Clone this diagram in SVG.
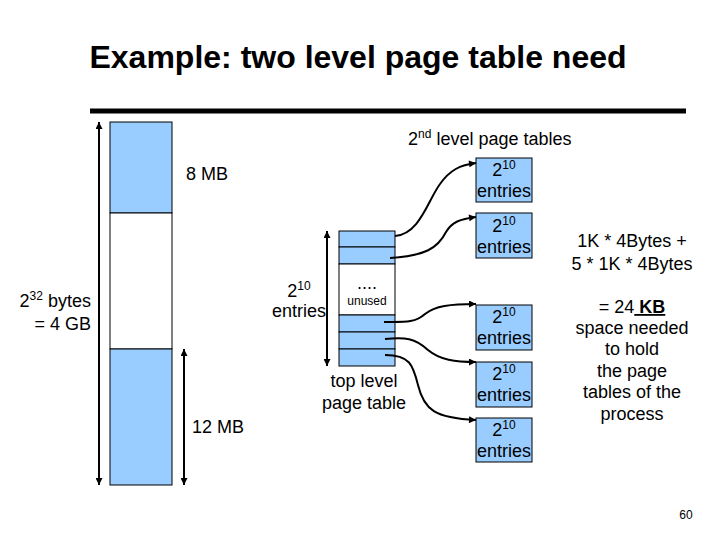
<svg xmlns="http://www.w3.org/2000/svg" width="720" height="540" viewBox="0 0 720 540">
<style>
text{font-family:"Liberation Sans",Arial,sans-serif;font-size:18px;fill:#000}
.sup{font-size:12px}
.blue{fill:#99CCFF;stroke:#000;stroke-width:1}
.white{fill:#fff;stroke:#000;stroke-width:1}
.con{fill:none;stroke:#000;stroke-width:2;marker-end:url(#ah)}
.dbl{fill:none;stroke:#000;stroke-width:2;marker-end:url(#ah);marker-start:url(#ah)}
</style>
<defs>
<marker id="ah" viewBox="0 0 10 10" refX="10" refY="5" markerWidth="9" markerHeight="7" markerUnits="userSpaceOnUse" orient="auto-start-reverse">
<path d="M0,0 L10,5 L0,10 z" fill="#000"/>
</marker>
</defs>
<rect width="720" height="540" fill="#fff"/>
<g id="title">
<text x="358" y="68" text-anchor="middle" style="font-size:32px;font-weight:bold">Example: two level page table need</text>
<line x1="90" y1="111" x2="686" y2="111" stroke="#000" stroke-width="5"/>
</g>
<g id="address-space">
<rect class="blue" x="110" y="122" width="62" height="91"/>
<rect class="white" x="110" y="213" width="62" height="136"/>
<rect class="blue" x="110" y="349" width="62" height="136"/>
</g>
<g id="labels-left">
<text x="91" y="307" text-anchor="end">2<tspan class="sup" dy="-7">32</tspan><tspan dy="7"> bytes</tspan></text>
<text x="91" y="330" text-anchor="end">= 4 GB</text>
<text x="186" y="180">8 MB</text>
<text x="192" y="433">12 MB</text>
</g>
<g id="top-level-table">
<rect class="blue" x="339" y="231" width="56" height="16"/>
<rect class="blue" x="339" y="247" width="56" height="17"/>
<rect class="white" x="339" y="264" width="56" height="51"/>
<rect class="blue" x="339" y="315" width="56" height="17"/>
<rect class="blue" x="339" y="332" width="56" height="17"/>
<rect class="blue" x="339" y="349" width="56" height="17"/>
<text x="367" y="289" text-anchor="middle">....</text>
<text x="367" y="305" text-anchor="middle" style="font-size:12px">unused</text>
<text x="299" y="297" text-anchor="middle">2<tspan class="sup" dy="-7">10</tspan></text>
<text x="299" y="317" text-anchor="middle">entries</text>
<text x="364" y="387" text-anchor="middle">top level</text>
<text x="364" y="409" text-anchor="middle">page table</text>
</g>
<g id="second-level-title">
<text x="408" y="145">2<tspan class="sup" dy="-7">nd</tspan><tspan dy="7"> level page tables</tspan></text>
</g>
<g id="pt1">
<rect class="blue" x="476" y="158" width="56" height="44"/>
<text x="504" y="176" text-anchor="middle">2<tspan class="sup" dy="-7">10</tspan></text>
<text x="504" y="197" text-anchor="middle">entries</text>
</g>
<g id="pt2">
<rect class="blue" x="476" y="213" width="56" height="45"/>
<text x="504" y="232" text-anchor="middle">2<tspan class="sup" dy="-7">10</tspan></text>
<text x="504" y="253" text-anchor="middle">entries</text>
</g>
<g id="pt3">
<rect class="blue" x="476" y="305" width="56" height="45"/>
<text x="504" y="323" text-anchor="middle">2<tspan class="sup" dy="-7">10</tspan></text>
<text x="504" y="344" text-anchor="middle">entries</text>
</g>
<g id="pt4">
<rect class="blue" x="476" y="362" width="56" height="45"/>
<text x="504" y="380" text-anchor="middle">2<tspan class="sup" dy="-7">10</tspan></text>
<text x="504" y="401" text-anchor="middle">entries</text>
</g>
<g id="pt5">
<rect class="blue" x="476" y="418" width="56" height="44"/>
<text x="504" y="436" text-anchor="middle">2<tspan class="sup" dy="-7">10</tspan></text>
<text x="504" y="457" text-anchor="middle">entries</text>
</g>
<g id="connectors">
<line class="dbl" x1="99" y1="122" x2="99" y2="485"/>
<line class="dbl" x1="184" y1="349" x2="184" y2="485"/>
<line class="dbl" x1="327" y1="231" x2="327" y2="366"/>
<path class="con" d="M395,236 C420,234 428,200 440,184 C450,170 460,165 476,163"/>
<path class="con" d="M390,258 C425,256 438,248 446,232 C452,222 460,219 476,217"/>
<path class="con" d="M384,322 C405,322 415,323 425,314 C435,306 450,304 476,304"/>
<path class="con" d="M385,339 C405,337 415,338 428,350 C440,360 455,362 476,362"/>
<path class="con" d="M385,355 C410,355 413,365 418,385 C424,410 435,418 476,420"/>
</g>
<g id="calc">
<text x="632" y="247" text-anchor="middle">1K * 4Bytes +</text>
<text x="632" y="270" text-anchor="middle">5 * 1K * 4Bytes</text>
<text x="632" y="313" text-anchor="middle">= 24<tspan style="font-weight:bold;text-decoration:underline"> KB</tspan></text>
<text x="632" y="334" text-anchor="middle">space needed</text>
<text x="632" y="355" text-anchor="middle">to hold</text>
<text x="632" y="377" text-anchor="middle">the page</text>
<text x="632" y="398" text-anchor="middle">tables of the</text>
<text x="632" y="420" text-anchor="middle">process</text>
</g>
<text x="686" y="519" text-anchor="middle" style="font-size:12px">60</text>
</svg>
